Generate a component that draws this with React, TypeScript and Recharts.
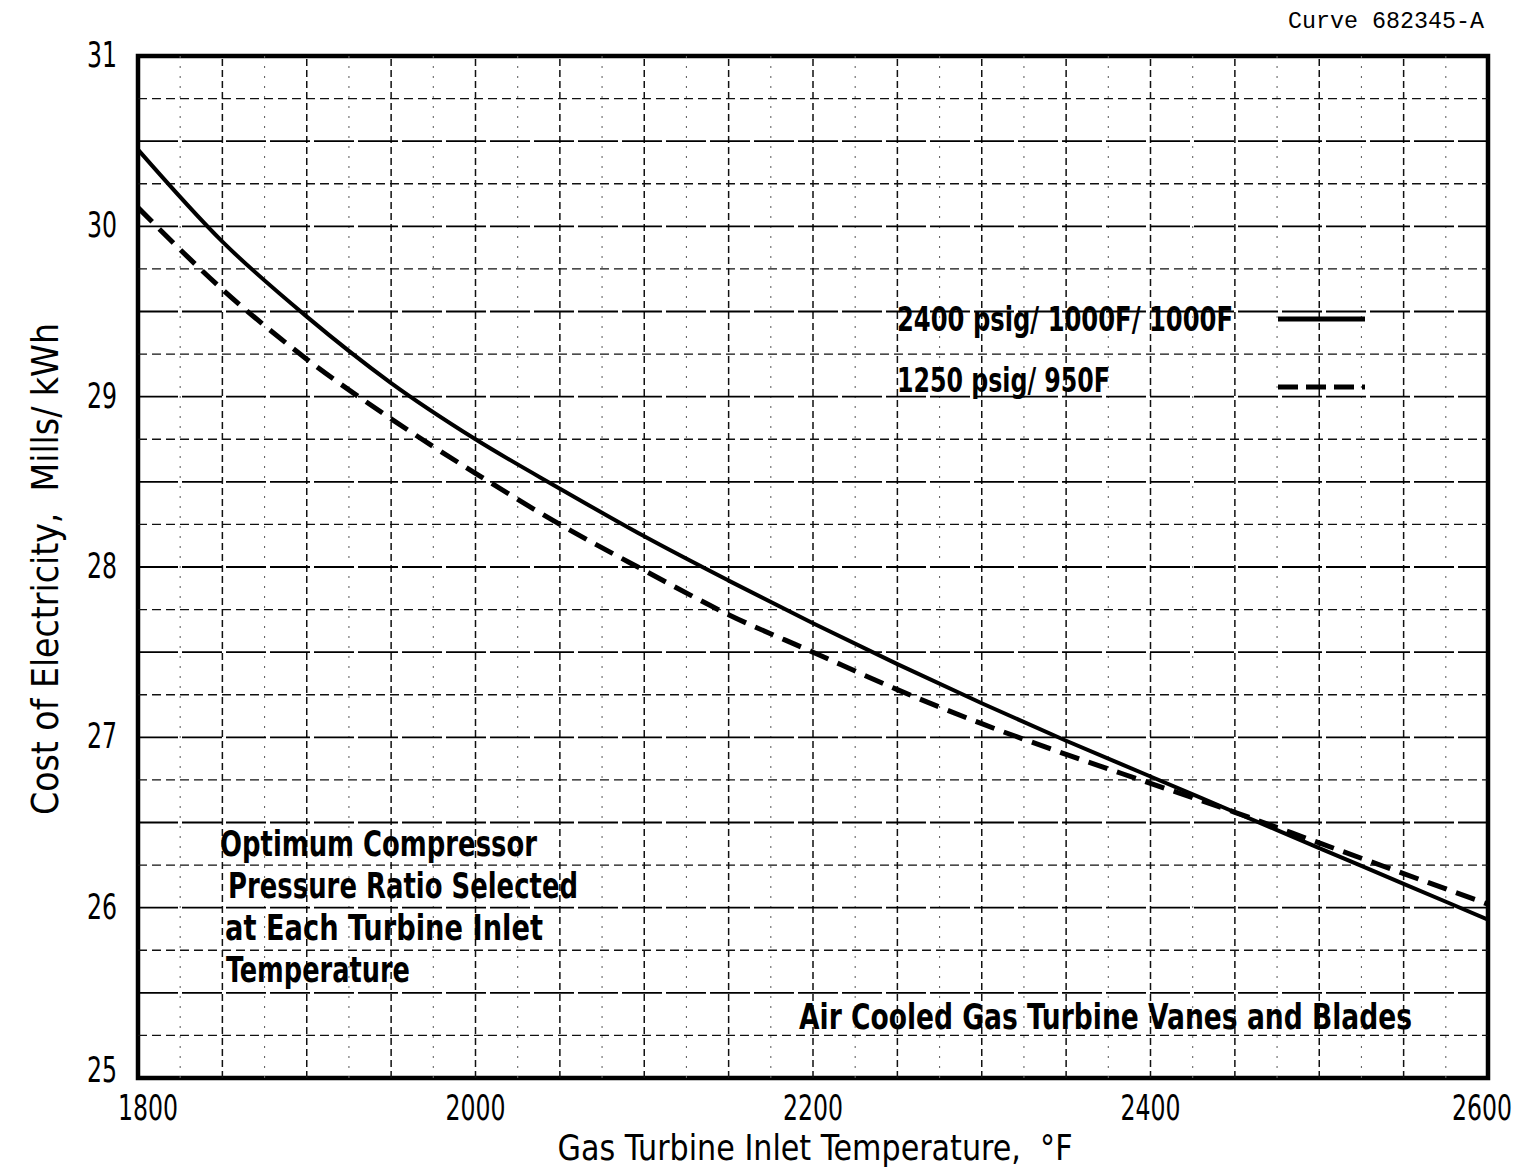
import React from 'react';
import { LineChart, Line, XAxis, YAxis, ReferenceLine, ReferenceArea, Legend } from 'recharts';

// ---- data ----
const temperatures = [1800, 1850, 1900, 1950, 2000, 2050, 2100, 2150, 2200, 2250, 2300, 2350, 2400, 2450, 2500, 2550, 2600];
const cost2400psig = [30.45, 29.91, 29.47, 29.08, 28.75, 28.46, 28.18, 27.92, 27.67, 27.43, 27.2, 26.98, 26.77, 26.56, 26.35, 26.14, 25.93];
const cost1250psig = [30.11, 29.63, 29.22, 28.87, 28.55, 28.25, 27.98, 27.72, 27.5, 27.28, 27.08, 26.9, 26.73, 26.56, 26.38, 26.2, 26.02];
const seriesNames = ['2400 psig/ 1000F/ 1000F', '1250 psig/ 950F'];
const xTicks = [1800, 2000, 2200, 2400, 2600];
const yTicks = [25, 26, 27, 28, 29, 30, 31];
const gridMajorY = [25.5, 26, 26.5, 27, 27.5, 28, 28.5, 29, 29.5, 30, 30.5];
const gridMinorY = [25.25, 25.75, 26.25, 26.75, 27.25, 27.75, 28.25, 28.75, 29.25, 29.75, 30.25, 30.75];
const gridX = [1850, 1900, 1950, 2000, 2050, 2100, 2150, 2200, 2250, 2300, 2350, 2400, 2450, 2500, 2550];
const gridDotX = [1825, 1875, 1925, 1975, 2025, 2075, 2125, 2175, 2225, 2275, 2325, 2375, 2425, 2475, 2525, 2575];
const xAxisTitle = 'Gas Turbine Inlet Temperature,\u00A0\u00A0\u00B0F';
const yAxisTitle = 'Cost of Electricity,\u00A0\u00A0Mills/ kWh';
const curveId = 'Curve 682345-A';
const noteLines = ['Optimum Compressor', 'Pressure Ratio Selected', 'at Each Turbine Inlet', 'Temperature'];
const coolingNote = 'Air Cooled Gas Turbine Vanes and Blades';

const rows = temperatures.map((t, i) => ({ t, a: cost2400psig[i], b: cost1250psig[i] }));

const NARROW = "'Liberation Sans Narrow', 'DejaVu Sans Condensed', 'Roboto Condensed', 'Liberation Sans', sans-serif";

const XTick = (props: any) => {
  const { x, y, payload } = props;
  const shift = payload.value === 1800 ? 10 : payload.value === 2600 ? -6 : 0;
  return (
    <text x={x + shift} y={y + 42} textAnchor="middle" fontFamily={NARROW} fontSize={35} fill="#000"
      textLength={60} lengthAdjust="spacingAndGlyphs">
      {String(payload.value)}
    </text>
  );
};

const YTick = (props: any) => {
  const { x, y, payload } = props;
  const dy = payload.value === 25 ? 4 : 11;
  return (
    <text x={x - 21} y={y + dy} textAnchor="end" fontFamily={NARROW} fontSize={36} fill="#000"
      textLength={30} lengthAdjust="spacingAndGlyphs">
      {String(payload.value)}
    </text>
  );
};

const legendWidths = [336, 213];
const renderLegend = (props: any) => {
  const payload = [...(props.payload || [])].sort(
    (p: any, q: any) => seriesNames.indexOf(p.value) - seriesNames.indexOf(q.value)
  );
  return (
    <svg width={500} height={120} style={{ overflow: 'visible' }}>
      {payload.map((entry: any) => {
        const i = seriesNames.indexOf(entry.value);
        const dash = entry?.payload?.strokeDasharray;
        const baseY = i === 0 ? 41 : 102;
        const lineY = i === 0 ? 29 : 97;
        return (
          <g key={entry.value}>
            <text x={17} y={baseY} fontFamily={NARROW} fontWeight="bold" fontSize={34} fill="#000"
              textLength={legendWidths[i]} lengthAdjust="spacingAndGlyphs">{entry.value}</text>
            <line x1={398} x2={485} y1={lineY} y2={lineY} stroke="#000" strokeWidth={5}
              strokeDasharray={dash ? '20 8' : undefined} />
          </g>
        );
      })}
    </svg>
  );
};

export default function App() {
  const noteX = [220, 228, 225, 226];
  const noteY = [856, 898, 940, 982];
  const noteW = [317, 350, 318, 184];
  return (
    <div style={{ position: 'absolute', left: 0, top: 0, width: 1520, height: 1174, background: '#fff' }}>
      <LineChart width={1520} height={1174} data={rows}
        margin={{ top: 56, right: 32, bottom: 36, left: 38 }}>
        {gridDotX.map((v) => (
          <ReferenceLine key={'dx' + v} x={v} stroke="#666" strokeWidth={1.1} strokeDasharray="2 8" />
        ))}
        {gridX.map((v) => (
          <ReferenceLine key={'gx' + v} x={v} stroke="#111" strokeWidth={1.5} strokeDasharray="7 4" />
        ))}
        {gridMinorY.map((v) => (
          <ReferenceLine key={'my' + v} y={v} stroke="#111" strokeWidth={1.4} strokeDasharray="9 5" />
        ))}
        {gridMajorY.map((v) => (
          <ReferenceLine key={'gy' + v} y={v} stroke="#000" strokeWidth={1.8} strokeDasharray="40 4" />
        ))}
        <XAxis dataKey="t" type="number" domain={[1800, 2600]} ticks={xTicks} allowDataOverflow
          axisLine={false} tickLine={false} tickSize={0} tickMargin={0} height={60} tick={<XTick />} interval={0} />
        <YAxis type="number" domain={[25, 31]} ticks={yTicks} allowDataOverflow
          axisLine={false} tickLine={false} tickSize={0} tickMargin={0} width={100} tick={<YTick />} interval={0} />
        <ReferenceArea x1={1800} x2={2600} y1={25} y2={31} fill="none" fillOpacity={0} stroke="#000" strokeWidth={4.5} />
        <Line dataKey="a" name={seriesNames[0]} type="monotone" stroke="#000" strokeWidth={4}
          dot={false} isAnimationActive={false} />
        <Line dataKey="b" name={seriesNames[1]} type="monotone" stroke="#000" strokeWidth={5}
          strokeDasharray="20 10" dot={false} isAnimationActive={false} />
        <Legend layout="vertical" align="center" verticalAlign="middle" content={renderLegend}
          wrapperStyle={{ position: 'absolute', left: 880, top: 290, width: 500, height: 120 }} />
      </LineChart>
      <svg width={1520} height={1174} style={{ position: 'absolute', left: 0, top: 0, pointerEvents: 'none' }}>
        <text x={1288} y={28} fontFamily="'Liberation Mono', 'DejaVu Sans Mono', monospace" fontSize={23} fill="#000"
          textLength={196} lengthAdjust="spacingAndGlyphs">{curveId}</text>
        <text x={815} y={1160} textAnchor="middle" fontFamily={NARROW} fontSize={35} fill="#000"
          textLength={515} lengthAdjust="spacingAndGlyphs">{xAxisTitle}</text>
        <text x={0} y={0} transform="translate(58,569) rotate(-90)" textAnchor="middle" fontFamily={NARROW}
          fontSize={38} fill="#000" textLength={492} lengthAdjust="spacingAndGlyphs">{yAxisTitle}</text>
        {noteLines.map((s, i) => (
          <text key={s} x={noteX[i]} y={noteY[i]} fontFamily={NARROW} fontWeight="bold" fontSize={35} fill="#000"
            textLength={noteW[i]} lengthAdjust="spacingAndGlyphs">{s}</text>
        ))}
        <text x={799} y={1029} fontFamily={NARROW} fontWeight="bold" fontSize={35} fill="#000"
          textLength={613} lengthAdjust="spacingAndGlyphs">{coolingNote}</text>
      </svg>
    </div>
  );
}
